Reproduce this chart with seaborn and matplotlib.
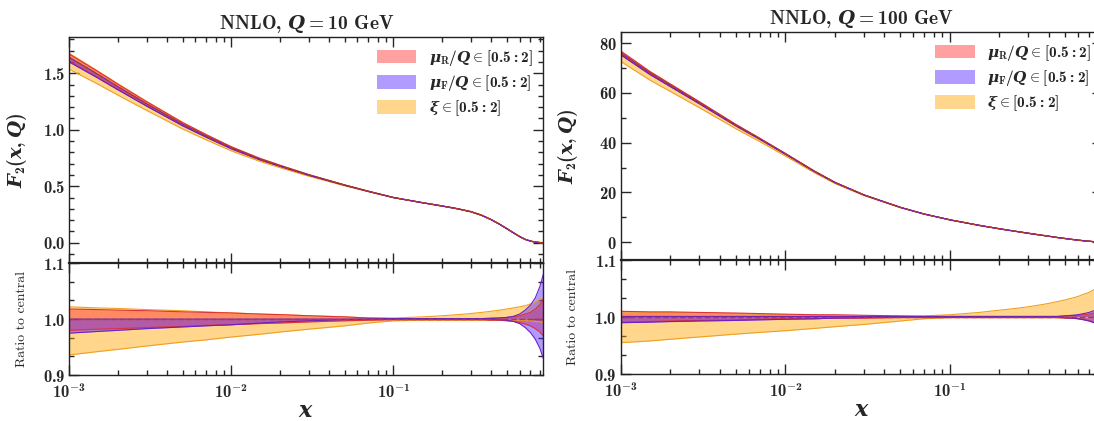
import numpy as np
import matplotlib
matplotlib.use("Agg")
import matplotlib.pyplot as plt
import seaborn as sns
from matplotlib.ticker import FixedLocator, FuncFormatter, AutoMinorLocator, LogLocator, NullFormatter
from matplotlib.patches import Patch

sns.set_style("ticks")
plt.rcParams.update({
    "mathtext.fontset": "custom",
    "mathtext.rm": "cmb10",
    "mathtext.bf": "cmb10",
    "mathtext.sf": "cmb10",
    "mathtext.it": "DejaVu Serif:italic:bold",
    "mathtext.fallback": "cm",
    "axes.unicode_minus": True,
})
plt.rcParams["font.family"] = ["DejaVu Serif", "DejaVu Sans"]

# ---------------- data ----------------
x_grid = [1e-3, 1.5e-3, 2e-3, 3e-3, 5e-3, 7e-3, 1e-2, 1.5e-2, 2e-2, 3e-2, 5e-2, 7e-2,
          0.1, 0.15, 0.2, 0.25, 0.3, 0.35, 0.4, 0.45, 0.5, 0.55, 0.6, 0.65, 0.7, 0.75, 0.8, 0.84]

# Q = 10 GeV
f2_q10 = [1.64, 1.49, 1.38, 1.23, 1.05, 0.945, 0.84, 0.74, 0.68, 0.60, 0.51, 0.455,
          0.40, 0.355, 0.325, 0.30, 0.275, 0.243, 0.205, 0.165, 0.125, 0.088, 0.055, 0.030,
          0.015, 0.006, 0.002, 0.001]
xi_lo_q10 = [0.936, 0.942, 0.946, 0.952, 0.959, 0.963, 0.968, 0.973, 0.977, 0.982, 0.988, 0.993,
             0.997, 0.998, 0.998, 0.998, 0.998, 0.998, 0.998, 0.998, 0.998, 0.998, 0.998, 0.997,
             0.997, 0.996, 0.995, 0.994]
xi_hi_q10 = [1.022, 1.020, 1.019, 1.017, 1.015, 1.013, 1.011, 1.009, 1.008, 1.006, 1.004, 1.002,
             1.002, 1.004, 1.006, 1.008, 1.010, 1.012, 1.014, 1.016, 1.018, 1.020, 1.022, 1.024,
             1.027, 1.031, 1.035, 1.039]
muR_lo_q10 = [0.980, 0.982, 0.983, 0.985, 0.987, 0.989, 0.990, 0.992, 0.993, 0.995, 0.997, 0.998,
              0.999, 0.999, 0.999, 0.999, 0.999, 0.999, 0.998, 0.998, 0.997, 0.996, 0.994, 0.991,
              0.988, 0.983, 0.977, 0.970]
muR_hi_q10 = [1.018, 1.017, 1.016, 1.015, 1.013, 1.012, 1.011, 1.009, 1.008, 1.006, 1.004, 1.002,
              1.001, 1.001, 1.001, 1.001, 1.001, 1.001, 1.002, 1.002, 1.003, 1.004, 1.006, 1.009,
              1.012, 1.018, 1.026, 1.035]
muF_lo_q10 = [0.975, 0.978, 0.980, 0.983, 0.986, 0.988, 0.990, 0.993, 0.995, 0.997, 0.999, 1.000,
              1.000, 1.000, 1.000, 1.000, 1.000, 1.000, 1.000, 0.999, 0.998, 0.996, 0.992, 0.985,
              0.976, 0.964, 0.948, 0.930]
muF_hi_q10 = [1.000, 1.000, 1.000, 1.000, 1.000, 1.000, 1.000, 1.000, 1.000, 1.000, 1.000, 1.000,
              1.001, 1.001, 1.001, 1.001, 1.001, 1.001, 1.001, 1.002, 1.003, 1.005, 1.009, 1.016,
              1.025, 1.038, 1.058, 1.080]

# Q = 100 GeV
f2_q100 = [76.0, 68.0, 63.0, 56.0, 47.0, 41.5, 35.5, 28.5, 24.0, 19.0, 14.0, 11.3,
           9.0, 6.8, 5.4, 4.4, 3.6, 2.95, 2.4, 1.9, 1.5, 1.15, 0.85, 0.6,
           0.4, 0.25, 0.13, 0.08]
xi_lo_q100 = [0.955, 0.958, 0.961, 0.965, 0.970, 0.973, 0.976, 0.980, 0.983, 0.987, 0.993, 0.997,
              0.999, 0.999, 0.999, 0.999, 0.999, 0.999, 0.999, 0.999, 0.999, 0.999, 0.999, 0.999,
              0.999, 0.999, 0.999, 0.999]
xi_hi_q100 = [1.009, 1.008, 1.008, 1.007, 1.006, 1.005, 1.004, 1.003, 1.002, 1.001, 1.001, 1.002,
              1.004, 1.008, 1.012, 1.015, 1.018, 1.021, 1.024, 1.027, 1.030, 1.033, 1.036, 1.040,
              1.043, 1.048, 1.053, 1.057]
muR_lo_q100 = [0.991, 0.992, 0.993, 0.994, 0.995, 0.996, 0.997, 0.997, 0.998, 0.998, 0.999, 0.999,
               0.999, 0.999, 0.999, 0.999, 0.999, 0.999, 0.999, 0.999, 0.998, 0.998, 0.997, 0.996,
               0.994, 0.991, 0.988, 0.985]
muR_hi_q100 = [1.010, 1.009, 1.009, 1.008, 1.007, 1.006, 1.005, 1.004, 1.004, 1.003, 1.002, 1.001,
               1.001, 1.001, 1.001, 1.001, 1.001, 1.001, 1.001, 1.001, 1.002, 1.002, 1.003, 1.004,
               1.005, 1.007, 1.009, 1.011]
muF_lo_q100 = [0.990, 0.991, 0.992, 0.993, 0.994, 0.995, 0.996, 0.997, 0.998, 0.999, 1.000, 1.000,
               1.000, 1.000, 1.000, 1.000, 1.000, 1.000, 1.000, 1.000, 0.999, 0.998, 0.997, 0.995,
               0.993, 0.990, 0.986, 0.982]
muF_hi_q100 = [1.001, 1.001, 1.001, 1.001, 1.001, 1.001, 1.001, 1.001, 1.001, 1.001, 1.001, 1.001,
               1.001, 1.001, 1.001, 1.001, 1.001, 1.001, 1.001, 1.001, 1.002, 1.003, 1.004, 1.006,
               1.008, 1.011, 1.014, 1.018]

titles = [r"NNLO, $Q = 10$ GeV", r"NNLO, $Q = 100$ GeV"]
legend_labels = [r"$\mu_{\mathrm{R}}/Q \in [0.5:2]$", r"$\mu_{\mathrm{F}}/Q \in [0.5:2]$",
                 r"$\xi \in [0.5:2]$"]
main_yticks = [[0.0, 0.5, 1.0, 1.5], [0, 20, 40, 60, 80]]
ratio_yticks = [0.9, 1.0, 1.1]
xticks = [1e-3, 1e-2, 1e-1]

# ---------------- style ----------------
fill_cols = {"muR": "#ff3030", "muF": "#5522ff", "xi": "#ffa500"}
edge_cols = {"muR": "#e0303a", "muF": "#6a1fc8", "xi": "#f0a020"}
alpha = 0.45
central_col = "#b0401a"

fig = plt.figure(figsize=(10.94, 4.21), dpi=100)
ax_main = [fig.add_axes([0.0633, 0.375, 0.4333, 0.537]),
           fig.add_axes([0.5676, 0.382, 0.4397, 0.5416])]
ax_rat = [fig.add_axes([0.0633, 0.109, 0.4333, 0.266]),
          fig.add_axes([0.5676, 0.1116, 0.4397, 0.2708])]

panels = [
    dict(f2=f2_q10, xi=(xi_lo_q10, xi_hi_q10), muR=(muR_lo_q10, muR_hi_q10),
         muF=(muF_lo_q10, muF_hi_q10), ylim=(-0.18, 1.82), minor=5,
         fmt=lambda v, p: r"$\mathbf{%.1f}$" % v),
    dict(f2=f2_q100, xi=(xi_lo_q100, xi_hi_q100), muR=(muR_lo_q100, muR_hi_q100),
         muF=(muF_lo_q100, muF_hi_q100), ylim=(-7.2, 84.4), minor=2,
         fmt=lambda v, p: r"$\mathbf{%d}$" % v),
]

xarr = np.array(x_grid)

def log_fmt(v, p):
    e = int(round(np.log10(v)))
    return r"$\mathbf{10^{%d}}$" % e

for i, pd_ in enumerate(panels):
    am, ar = ax_main[i], ax_rat[i]
    f2 = np.array(pd_["f2"])
    for key in ["xi", "muR", "muF"]:
        lo = np.array(pd_[key][0]); hi = np.array(pd_[key][1])
        am.fill_between(xarr, f2 * lo, f2 * hi, color=fill_cols[key], alpha=alpha, lw=0)
        ar.fill_between(xarr, lo, hi, color=fill_cols[key], alpha=alpha, lw=0)
        for arr in (lo, hi):
            sns.lineplot(x=xarr, y=f2 * arr, ax=am, color=edge_cols[key], lw=0.8)
            sns.lineplot(x=xarr, y=arr, ax=ar, color=edge_cols[key], lw=0.8)
    sns.lineplot(x=xarr, y=f2, ax=am, color=central_col, lw=1.0, linestyle=(0, (4, 2)))
    sns.lineplot(x=xarr, y=np.ones_like(xarr), ax=ar, color=central_col, lw=1.0,
                 linestyle=(0, (4, 2)))

    for ax in (am, ar):
        ax.set_xscale("log")
        ax.set_xlim(1e-3, 0.84)
        ax.xaxis.set_major_locator(FixedLocator(xticks))
        ax.xaxis.set_minor_locator(LogLocator(base=10, subs=np.arange(2, 10)))
        ax.xaxis.set_minor_formatter(NullFormatter())
        ax.tick_params(which="both", direction="in", top=True, right=True, width=1.0)
        ax.tick_params(which="major", length=7)
        ax.tick_params(which="minor", length=3.5)
        for s in ax.spines.values():
            s.set_linewidth(1.0)
            s.set_color("#222222")
        ax.set_xlabel(""); ax.set_ylabel("")

    am.set_ylim(*pd_["ylim"])
    am.yaxis.set_major_locator(FixedLocator(main_yticks[i]))
    am.yaxis.set_minor_locator(AutoMinorLocator(pd_["minor"]))
    am.yaxis.set_major_formatter(FuncFormatter(pd_["fmt"]))
    am.tick_params(axis="x", labelbottom=False)
    am.tick_params(axis="y", labelsize=12, pad=3)
    am.set_title(titles[i], fontsize=14, pad=6, fontfamily="cmb10")
    am.set_ylabel(r"$F_2(x,Q)$", fontsize=14)
    am.yaxis.set_label_coords(-0.085, 0.5)

    ar.set_ylim(0.9, 1.1)
    ar.yaxis.set_major_locator(FixedLocator(ratio_yticks))
    ar.yaxis.set_minor_locator(AutoMinorLocator(3))
    ar.yaxis.set_major_formatter(FuncFormatter(lambda v, p: r"$\mathbf{%.1f}$" % v))
    ar.xaxis.set_major_formatter(FuncFormatter(log_fmt))
    ar.tick_params(axis="y", labelsize=12, pad=3)
    ar.tick_params(axis="x", labelsize=12, pad=6)
    ar.spines["top"].set_linewidth(1.6)
    ar.set_xlabel(r"$x$", fontsize=16, labelpad=-2)
    ar.set_ylabel("Ratio to central", fontsize=10, fontfamily="cmr10")
    ar.yaxis.set_label_coords(-0.088, 0.5)

    handles = [Patch(facecolor=fill_cols[k], alpha=alpha, edgecolor="none")
               for k in ["muR", "muF", "xi"]]
    am.legend(handles, legend_labels, loc="upper right", frameon=False, fontsize=11,
              handlelength=2.6, handleheight=1.0, labelspacing=0.35,
              borderaxespad=0.3, handletextpad=0.8)

fig.savefig("out.png", dpi=100)
